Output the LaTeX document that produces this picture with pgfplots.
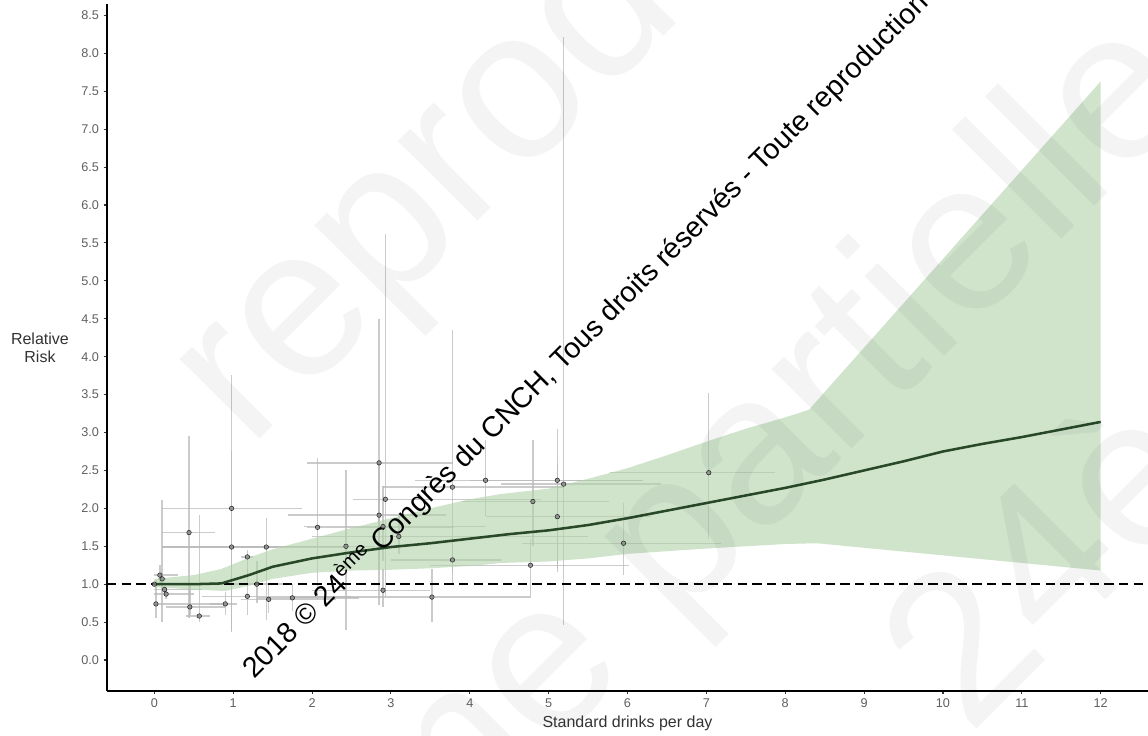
\documentclass[border=0pt]{standalone}
\usepackage{fontspec}
\setmainfont{Liberation Sans}
\usepackage{pgfplots}
\pgfplotsset{compat=1.18}
\usepackage{pgfplotstable}
\definecolor{band}{RGB}{176,210,170}
\definecolor{fitline}{RGB}{40,72,40}
\definecolor{ebar}{RGB}{185,185,185}
\definecolor{edot}{RGB}{135,135,135}
\definecolor{tickgrey}{RGB}{95,95,95}

\pgfplotstableread{
x    y    xlo  xhi  ylo  yhi
0    1.00 0    0    1.00 1.00
0.98 2.00 0.10 1.87 0.37 3.76
0.44 1.68 0.10 0.77 0.55 2.95
0.98 1.49 0.10 1.57 0.38 2.75
1.42 1.49 0.10 2.40 0.53 1.87
0.10 1.07 0.05 0.15 0.50 2.11
0.57 0.58 0.40 0.70 0.50 1.91
0.02 0.74 0.00 0.90 0.55 1.05
0.45 0.70 0.15 0.90 0.60 1.00
0.90 0.74 0.70 1.05 0.60 0.90
1.18 1.36 1.10 1.25 1.10 1.45
1.18 0.84 0.60 2.50 0.60 1.20
1.45 0.80 1.10 2.30 0.62 1.00
1.75 0.82 1.30 2.60 0.65 1.00
0.15 0.87 0.00 0.50 0.80 0.95
0.07 1.12 0.00 0.30 1.00 1.25
0.13 0.93 0.00 0.60 0.85 1.00
1.30 1.00 0.90 1.70 0.75 1.30
2.07 1.75 1.93 3.80 0.79 2.66
2.85 2.60 1.93 3.79 0.72 4.50
2.93 2.12 2.52 4.90 0.83 5.62
2.43 1.50 1.00 2.80 0.40 2.50
2.85 1.91 1.70 3.70 1.20 2.60
2.90 1.76 1.90 4.20 1.30 2.30
3.10 1.63 2.00 5.50 1.40 1.90
3.78 2.28 2.90 5.20 1.15 4.35
3.78 1.32 3.00 4.40 1.00 1.60
3.52 0.83 1.72 4.76 0.50 1.20
4.20 2.37 3.30 6.20 1.90 2.90
4.80 2.09 3.90 5.76 1.50 2.90
4.77 1.25 3.50 6.02 0.82 1.60
5.19 2.32 4.40 6.43 0.46 8.22
5.11 2.37 4.00 6.20 1.16 3.05
5.11 1.89 4.20 6.30 1.20 2.60
5.95 1.54 4.66 7.19 1.12 2.07
7.03 2.47 5.78 7.87 1.60 3.52
2.90 0.92 2.00 3.50 0.70 1.20
}\studies

\begin{document}
\begin{tikzpicture}
\useasboundingbox (0,0) rectangle (861pt,551.25pt);
\begin{axis}[
  at={(80.25pt,33.2pt)}, anchor=south west,
  scale only axis, width=780.75pt, height=515pt,
  xmin=-0.6, xmax=12.6, ymin=-0.405, ymax=8.65,
  axis x line=bottom, axis y line=left,
  axis line style={-, line width=1.3pt, black},
  xtick={0,1,2,3,4,5,6,7,8,9,10,11,12},
  ytick={0,0.5,1,1.5,2,2.5,3,3.5,4,4.5,5,5.5,6,6.5,7,7.5,8,8.5},
  yticklabel style={/pgf/number format/.cd, fixed, fixed zerofill, precision=1},
  /pgf/number format/assume math mode=true,
  tick align=outside, major tick length=2.5pt,
  tick style={line width=0.8pt, black!80},
  ticklabel style={font=\fontsize{9.5}{11}\selectfont, text=tickgrey},
  xlabel={Standard drinks per day},
  ylabel={Relative\\Risk},
  label style={font=\fontsize{12}{13.5}\selectfont, text=black!80},
  xlabel style={at={(axis description cs:0.5,-0.047)}, anchor=center},
  ylabel style={at={(axis description cs:-0.0644,0.5)}, rotate=-90, anchor=center, align=center},
  clip=false,
]
\addplot[only marks, mark=*, mark size=1.7pt, mark options={fill=edot, draw=none, opacity=0.8},
  error bars/.cd, x dir=both, y dir=both, x explicit, y explicit, error mark=none,
  error bar style={line width=1.1pt, ebar, opacity=0.75}]
  table[x=x, y=y,
    x error plus expr=\thisrow{xhi}-\thisrow{x},
    x error minus expr=\thisrow{x}-\thisrow{xlo},
    y error plus expr=\thisrow{yhi}-\thisrow{y},
    y error minus expr=\thisrow{y}-\thisrow{ylo}] {\studies};

\addplot[fill=band, draw=none, fill opacity=0.6] coordinates {
 (0,1.07) (0.5,1.12) (0.85,1.2) (1.2,1.35) (1.5,1.46) (2,1.6) (2.5,1.74) (3,1.87)
 (3.5,2.0) (4,2.12) (4.4,2.19) (5,2.26) (5.5,2.39) (6,2.53) (6.5,2.7) (7,2.88)
 (7.5,3.05) (8,3.2) (8.3,3.3) (12,7.63)
 (12,1.18) (8.4,1.54) (8,1.53) (7,1.47) (6,1.4) (5.5,1.34) (5,1.3) (4.4,1.28)
 (4,1.24) (3.5,1.21) (3,1.19) (2.5,1.18) (2,1.15) (1.5,1.07) (1.2,0.98)
 (0.9,0.91) (0.5,0.93) (0,0.96)
} -- cycle;

\addplot[black, line width=1.8pt, dash pattern=on 7pt off 4pt] coordinates {(-0.6,1) (12.6,1)};

\addplot[fitline, line width=1.9pt] coordinates {
 (0,1.0) (0.5,1.0) (0.85,1.01) (1.2,1.12) (1.5,1.23) (2,1.34) (2.5,1.42) (3,1.49)
 (3.5,1.54) (4,1.60) (4.5,1.66) (5,1.71) (5.5,1.78) (6,1.87) (6.5,1.97) (7,2.07)
 (7.5,2.17) (8,2.27) (8.5,2.38) (9,2.50) (9.5,2.62) (10,2.75) (10.5,2.85)
 (11,2.94) (11.5,3.04) (12,3.14)
};

% faint background watermark (overlay)
\begin{scope}[every node/.style={rotate=45, inner sep=0pt, text=black, text opacity=0.045, font=\fontsize{160}{160}\selectfont}]
\node[anchor=base west] at (axis cs:1.21,2.77) {reproduction};
\node[anchor=base west] at (axis cs:6.59,0.435) {partielle};
\node[anchor=base east] at (axis cs:6.05,-0.12) {même};
\node[anchor=base west] at (axis cs:10.34,-1.015) {24ème};
\end{scope}

\node[rotate=45, anchor=base west, font=\fontsize{21.5}{21.5}\selectfont, inner sep=0pt]
  at (axis cs:1.27,-0.26) {2018 © 24\textsuperscript{ème} Congrès du CNCH, Tous droits réservés - Toute reproduction même partielle interdite};
\end{axis}
\end{tikzpicture}
\end{document}
